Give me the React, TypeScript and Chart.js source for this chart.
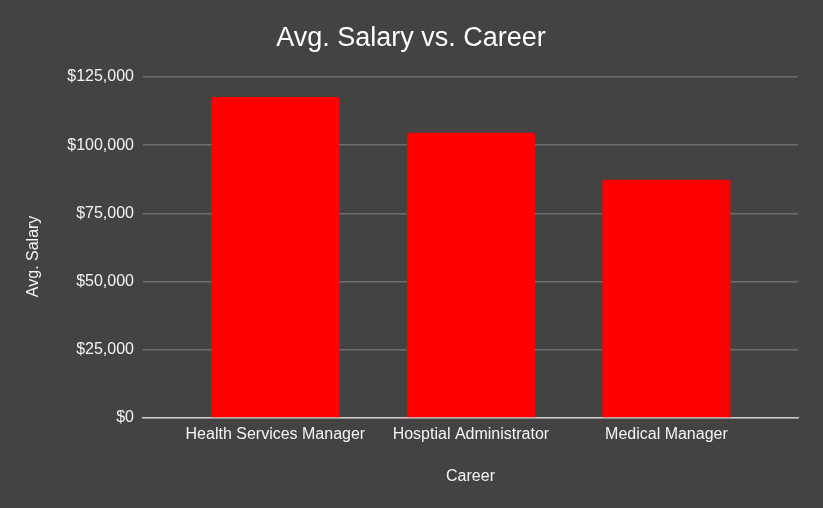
import React, { useEffect, useRef } from "react";
import { Chart, registerables } from "chart.js";

Chart.register(...registerables);

const careers = ["Health Services Manager", "Hosptial Administrator", "Medical Manager"];
const avgSalaries = [117700, 104600, 87350];
const yTickValues = [0, 25000, 50000, 75000, 100000, 125000];

const FONT = "Arial, 'Liberation Sans', sans-serif";
const BG = "#434343";
const TEXT = "#f4f4f4";

export default function App() {
  const canvasRef = useRef<HTMLCanvasElement | null>(null);

  useEffect(() => {
    if (!canvasRef.current) return;
    const chart = new Chart(canvasRef.current, {
      type: "bar",
      data: {
        datasets: [
          {
            label: "Avg. Salary",
            data: careers.map((_, i) => ({ x: i, y: avgSalaries[i] })),
            backgroundColor: "#ff0000",
            borderRadius: 2,
            borderSkipped: "start",
            categoryPercentage: 1,
            barPercentage: 0.655,
          },
        ],
      },
      options: {
        animation: false,
        responsive: false,
        maintainAspectRatio: false,
        layout: { padding: { left: 24, right: 25, top: 0, bottom: 0 } },
        plugins: {
          legend: { display: false },
          tooltip: { enabled: false },
          title: {
            display: true,
            text: "Avg. Salary vs. Career",
            color: "#ffffff",
            font: { family: FONT, size: 27, weight: "normal" },
            padding: { top: 22.1, bottom: 22.5 },
          },
        },
        scales: {
          x: {
            type: "linear",
            offset: false,
            bounds: "ticks",
            min: -0.677,
            max: 2.673,
            afterBuildTicks: (scale: any) => {
              scale.ticks = careers.map((_, i) => ({ value: i }));
            },
            afterFit: (scale: any) => {
              scale.height = 90;
            },
            grid: { display: false, drawTicks: false, offset: false },
            border: { display: true, color: "#cccccc", width: 1.5 },
            ticks: {
              color: TEXT,
              font: { family: FONT, size: 16 },
              padding: 7.4,
              maxRotation: 0,
              autoSkip: false,
              callback: (value: any) => careers[Number(value)] ?? "",
            },
            title: {
              display: true,
              text: "Career",
              color: TEXT,
              font: { family: FONT, size: 16 },
              padding: { top: 0, bottom: 22.3 },
            },
          },
          y: {
            min: 0,
            max: 125000,
            afterBuildTicks: (scale: any) => {
              scale.ticks = yTickValues.map((v) => ({ value: v }));
            },
            afterFit: (scale: any) => {
              scale.width = 119;
            },
            grid: { color: "#6e6e6e", lineWidth: 1.5, drawTicks: false },
            border: { display: false },
            ticks: {
              color: TEXT,
              font: { family: FONT, size: 16 },
              padding: 9,
              callback: (value: any) => "$" + Number(value).toLocaleString("en-US"),
            },
            title: {
              display: true,
              // trailing spaces nudge the rotated title a little lower
              text: "Avg. Salary    ",
              color: TEXT,
              font: { family: FONT, size: 16 },
              padding: { top: 0.4, bottom: 0 },
            },
          },
        },
      },
    });
    return () => chart.destroy();
  }, []);

  return (
    <div
      style={{
        position: "fixed",
        left: 0,
        top: 0,
        width: 823,
        height: 508,
        background: BG,
      }}
    >
      <canvas ref={canvasRef} width={823} height={508} style={{ display: "block" }} />
    </div>
  );
}
